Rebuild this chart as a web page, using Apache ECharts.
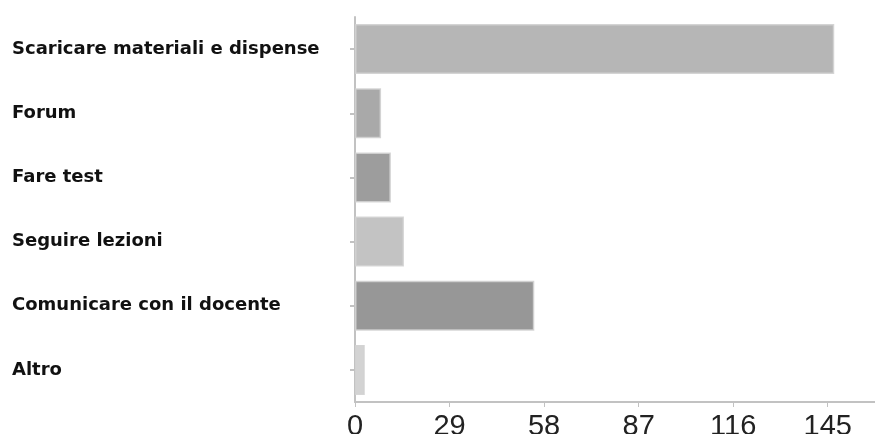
<!DOCTYPE html>
<html>
<head>
<meta charset="utf-8">
<style>
  html, body { margin: 0; padding: 0; background: #fff; }
  #chart { width: 875px; height: 434px; }
</style>
<script src="https://cdn.jsdelivr.net/npm/echarts@6/dist/echarts.min.js"></script>
</head>
<body>
<div id="chart"></div>
<script>
// Activity categories, listed top to bottom
const categories = [
  'Scaricare materiali e dispense',
  'Forum',
  'Fare test',
  'Seguire lezioni',
  'Comunicare con il docente',
  'Altro'
];
// Number of responses per activity
const values = [147, 8, 11, 15, 55, 3];
// Gray tone per bar
const barColors = ['#b6b6b6', '#a9a9a9', '#9d9d9d', '#c3c3c3', '#979797', '#d3d3d3'];
// Value axis tick labels
const xTicks = [0, 29, 58, 87, 116, 145];

const chart = echarts.init(document.getElementById('chart'), null, { renderer: 'canvas' });

chart.setOption({
  animation: false,
  grid: { left: 355, right: 0, top: 17, bottom: 32, containLabel: false, outerBoundsMode: 'none' },
  xAxis: {
    type: 'value',
    min: 0,
    max: 159.5,
    splitLine: { show: false },
    axisLine: { show: true, lineStyle: { color: '#c2c2c2', width: 2 } },
    axisTick: { show: true, length: 5, lineStyle: { color: '#c2c2c2', width: 1 }, customValues: xTicks },
    axisLabel: {
      customValues: xTicks,
      color: '#222',
      fontFamily: 'Liberation Sans, Arial, sans-serif',
      fontSize: 29,
      margin: 10
    }
  },
  yAxis: {
    type: 'category',
    data: categories,
    inverse: true,
    axisLine: { show: true, lineStyle: { color: '#c2c2c2', width: 2 } },
    axisTick: { show: true, alignWithLabel: true, length: 5, lineStyle: { color: '#c2c2c2', width: 2 } },
    axisLabel: {
      align: 'left',
      margin: 343,
      color: '#111',
      fontFamily: 'DejaVu Sans, sans-serif',
      fontWeight: 'bold',
      fontSize: 18
    }
  },
  series: [{
    type: 'bar',
    barCategoryGap: '22%',
    data: values.map((v, i) => ({
      value: v,
      itemStyle: { color: barColors[i], borderColor: 'rgba(210,210,210,0.9)', borderWidth: 1.5 }
    }))
  }]
});
</script>
</body>
</html>
